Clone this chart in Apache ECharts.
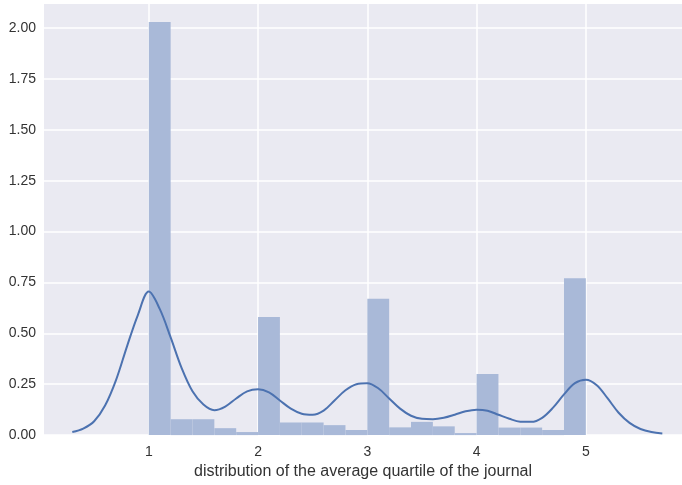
<!DOCTYPE html>
<html>
<head>
<meta charset="utf-8">
<script src="https://cdn.jsdelivr.net/npm/echarts@6/dist/echarts.min.js"></script>
<style>html,body{margin:0;padding:0;background:#fff}#c{width:682px;height:485px}</style>
</head>
<body>
<div id="c"></div>
<script>
// Histogram: 20 bins of width 0.2 from 1 to 5 (density)
const binStart = 1.0;
const binWidth = 0.2;
const density = [2.03, 0.078, 0.078, 0.034, 0.015,
                 0.58, 0.062, 0.062, 0.049, 0.025,
                 0.67, 0.038, 0.065, 0.043, 0.010,
                 0.30, 0.037, 0.037, 0.025, 0.77];
// KDE curve
const kdeX = [0.3,0.4,0.5,0.6,0.7,0.8,0.9,1.0,1.1,1.2,1.3,1.4,1.5,1.6,1.7,1.8,1.9,2.0,2.1,2.2,2.3,2.4,2.5,2.6,2.7,2.8,2.9,3.0,3.1,3.2,3.3,3.4,3.5,3.6,3.7,3.8,3.9,4.0,4.1,4.2,4.3,4.4,4.5,4.6,4.7,4.8,4.9,5.0,5.1,5.2,5.3,5.4,5.5,5.6,5.7];
const kdeY = [0.015,0.032,0.068,0.145,0.270,0.435,0.590,0.705,0.620,0.480,0.330,0.215,0.150,0.122,0.140,0.180,0.215,0.225,0.210,0.170,0.130,0.105,0.100,0.120,0.170,0.220,0.250,0.255,0.230,0.180,0.130,0.095,0.080,0.078,0.085,0.100,0.117,0.125,0.120,0.100,0.080,0.066,0.065,0.085,0.135,0.200,0.255,0.272,0.245,0.180,0.110,0.060,0.030,0.015,0.008];
const xTicks = [1, 2, 3, 4, 5];
const yTicks = [0, 0.25, 0.5, 0.75, 1.0, 1.25, 1.5, 1.75, 2.0];
const xTitle = 'distribution of the average quartile of the journal';

const histData = density.map((d, i) => [binStart + i * binWidth, binStart + (i + 1) * binWidth, d]);
const kdeData = kdeX.map((x, i) => [x, kdeY[i]]);

const chart = echarts.init(document.getElementById('c'), null, {renderer: 'canvas'});
const font = 'Liberation Sans, Arial, sans-serif';
chart.setOption({
  animation: false,
  grid: {left: 44, top: 4, right: 0, bottom: 49, show: true, backgroundColor: '#EAEAF2', borderWidth: 0},
  xAxis: {
    type: 'value', min: 0.041, max: 5.88,
    name: xTitle, nameLocation: 'middle', nameGap: 27,
    nameTextStyle: {fontFamily: font, fontSize: 16, color: '#333'},
    axisLine: {show: false},
    axisTick: {show: false, customValues: xTicks},
    axisLabel: {customValues: xTicks, fontFamily: font, fontSize: 14, color: '#333', margin: 10},
    splitLine: {show: true, lineStyle: {color: '#fff', width: 1.5}}
  },
  yAxis: {
    type: 'value', min: 0, max: 2.118,
    axisLine: {show: false},
    axisTick: {show: false, customValues: yTicks},
    axisLabel: {customValues: yTicks, fontFamily: font, fontSize: 14, color: '#333', margin: 8,
      formatter: v => v.toFixed(2)},
    splitLine: {show: true, lineStyle: {color: '#fff', width: 1.5}}
  },
  series: [
    {
      type: 'custom',
      data: histData,
      encode: {x: [0, 1], y: 2},
      renderItem: function (params, api) {
        const p0 = api.coord([api.value(0), api.value(2)]);
        const p1 = api.coord([api.value(1), 0]);
        return {
          type: 'rect',
          shape: {x: p0[0], y: p0[1], width: p1[0] - p0[0], height: p1[1] - p0[1]},
          style: {fill: '#A9B9D8'}
        };
      },
      z: 2
    },
    {
      type: 'line',
      data: kdeData,
      smooth: 0.35,
      showSymbol: false,
      lineStyle: {color: '#4C72B0', width: 2},
      z: 3
    }
  ]
});
</script>
</body>
</html>
